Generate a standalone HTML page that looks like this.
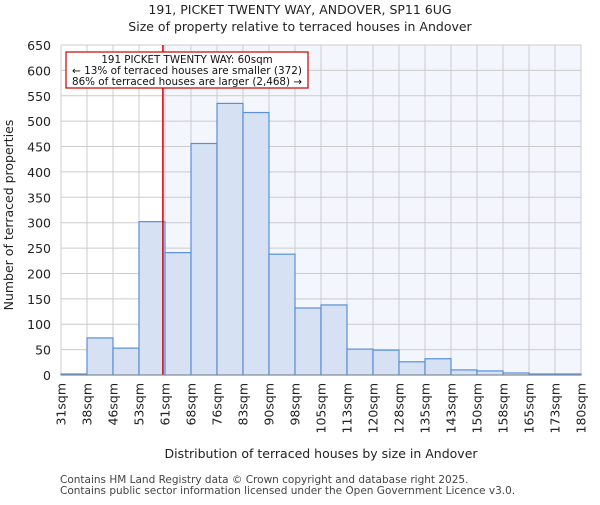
<!DOCTYPE html>
<html><head><meta charset="utf-8"><style>body{margin:0;background:#fff}svg{font-family:"DejaVu Sans","Liberation Sans",sans-serif}</style></head>
<body>
<svg id="c" width="600" height="500" xmlns="http://www.w3.org/2000/svg"></svg>
<script>
const labels=["31sqm","38sqm","46sqm","53sqm","61sqm","68sqm","76sqm","83sqm","90sqm","98sqm","105sqm","113sqm","120sqm","128sqm","135sqm","143sqm","150sqm","158sqm","165sqm","173sqm","180sqm"];
const counts=[2,73,53,302,241,456,535,517,238,132,138,51,49,26,32,10,8,4,2,2];
const yTicks=[0,50,100,150,200,250,300,350,400,450,500,550,600,650];
const marker=3.92;
const L=61,R=581,T=45,B=375,yMax=650;
const svg=document.getElementById('c');
const bw=(R-L)/counts.length;
const xs=i=>L+i*bw, ys=v=>B-v/yMax*(B-T);
function mk(t,a,txt){const e=document.createElementNS('http://www.w3.org/2000/svg',t);for(const k in a)e.setAttribute(k,a[k]);if(txt!==undefined)e.textContent=txt;svg.appendChild(e);return e;}
let e;
e=mk('rect',{x:xs(marker),y:T,width:R-xs(marker),height:B-T,fill:'#f4f6fd'});


yTicks.forEach(v=>{e=mk('line',{x1:L,x2:R,y1:ys(v),y2:ys(v),stroke:'#cccccc'});


e=mk('text',{x:L-10,y:ys(v)+5,'text-anchor':'end','font-size':12.5,fill:'#222'},v);

});
labels.forEach((s,i)=>{e=mk('line',{x1:xs(i),x2:xs(i),y1:T,y2:B,stroke:'#cccccc'});


e=mk('text',{transform:`translate(${xs(i)+4.5},${B+8}) rotate(-90)`,'text-anchor':'end','font-size':12.5,fill:'#222'},s);

});
counts.forEach((v,i)=>{e=mk('rect',{x:xs(i),y:ys(v),width:bw,height:B-ys(v),fill:'#d6e2f3',stroke:'#5a8fd6','stroke-width':1.2});

});
e=mk('line',{x1:xs(marker),x2:xs(marker),y1:T,y2:B,stroke:'#cc0000','stroke-width':1.5});


e=mk('line',{x1:L,x2:R,y1:B,y2:B,stroke:'#888'});


e=mk('rect',{x:66,y:52,width:242,height:36,fill:'#fff',stroke:'#cc0000','stroke-width':1.2});


[["191 PICKET TWENTY WAY: 60sqm",63],["← 13% of terraced houses are smaller (372)",74],["86% of terraced houses are larger (2,468) →",85]].forEach(([t,y])=>{e=mk('text',{x:187,y:y,'text-anchor':'middle','font-size':10.3,fill:'#111',textLength:230,lengthAdjust:'spacingAndGlyphs'},t);
if(y===63){e.removeAttribute('textLength');}

});
e=mk('text',{x:300,y:14,'text-anchor':'middle','font-size':12.5,fill:'#222'},"191, PICKET TWENTY WAY, ANDOVER, SP11 6UG");


e=mk('text',{x:300,y:31,'text-anchor':'middle','font-size':12.5,fill:'#222'},"Size of property relative to terraced houses in Andover");


e=mk('text',{x:321,y:458,'text-anchor':'middle','font-size':12.5,fill:'#222'},"Distribution of terraced houses by size in Andover");


e=mk('text',{transform:'translate(13,215) rotate(-90)','text-anchor':'middle','font-size':12.5,fill:'#222'},"Number of terraced properties");


e=mk('text',{x:60,y:483,'font-size':10.5,fill:'#444'},"Contains HM Land Registry data © Crown copyright and database right 2025.");


e=mk('text',{x:60,y:494,'font-size':10.5,fill:'#444'},"Contains public sector information licensed under the Open Government Licence v3.0.");


</script>
</body></html>
